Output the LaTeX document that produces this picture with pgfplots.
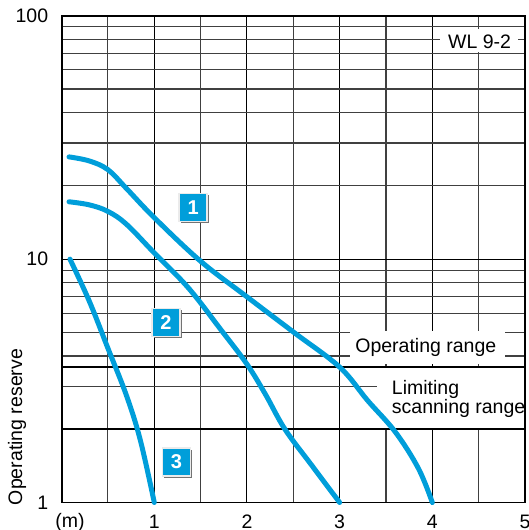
\documentclass[border=0pt]{standalone}
\usepackage{pgfplots}
\pgfplotsset{compat=1.18}
\usepackage{fontspec}
\setmainfont{Liberation Sans}
\usetikzlibrary{shadows}
\definecolor{cyanb}{RGB}{0,158,218}
\begin{document}
\fontsize{9.75}{11.5}\selectfont
\begin{tikzpicture}[
  numbox/.style={fill=cyanb, text=white, font=\bfseries\fontsize{10}{12}\selectfont,
    minimum size=14pt, inner sep=0pt, draw=black!8, line width=0.8pt,
    drop shadow={shadow xshift=0.9pt, shadow yshift=-0.9pt, fill=black!55, opacity=1}},
  curve/.style={cyanb, line width=2.5pt, line cap=round, line join=round, smooth, tension=0.6, no markers}
]
\begin{axis}[
  scale only axis, width=231.7pt, height=243.4pt,
  ymode=log, log basis y=10,
  xmin=0, xmax=5, ymin=1, ymax=100,
  xtick={1,2,3,4,5}, xticklabels={1,2,3,4,5},
  minor xtick={0.5,1.5,2.5,3.5,4.5},
  ytick={1,10,100}, yticklabels={1,10,100},
  minor ytick={2,3,4,5,6,7,8,9,20,30,40,50,60,70,80,90},
  grid=both,
  major grid style={black, line width=0.5pt},
  minor grid style={black!75, line width=0.55pt},
  major tick length=0pt, minor tick length=0pt,
  axis line style={black, line width=0.9pt},
  tick label style={font=\fontsize{9.75}{11.5}\selectfont},
  yticklabel style={xshift=-3.3pt},
  xticklabel style={yshift=-2.6pt},
  clip=false,
]
% white label boxes
\fill[white] (axis cs:4.08,71.2) rectangle (axis cs:4.92,88.3);
\fill[white] (axis cs:3.11,3.7) rectangle (axis cs:4.78,5.07);
\fill[white] (axis cs:3.40,2) rectangle (axis cs:5,3.6);
% thick reference lines
\draw[black, line width=1.1pt] (axis cs:0,3.6) -- (axis cs:5,3.6);
\draw[black, line width=1.1pt] (axis cs:0,2) -- (axis cs:5,2);
\draw[black, line width=0.9pt] (rel axis cs:1,0) -- (rel axis cs:1,1);
% curves
\addplot[curve] coordinates {(0.08,26.3) (0.3,25.3) (0.5,23.3) (0.7,19.5) (1.0,14.8) (1.5,9.8) (2.0,7.0) (2.5,5.02) (3.0,3.6) (3.3,2.63) (3.6,1.95) (3.85,1.38) (4.0,1.0)};
\addplot[curve] coordinates {(0.08,17.2) (0.3,16.7) (0.5,15.7) (0.7,13.9) (1.0,10.6) (1.37,7.6) (1.72,5.12) (2.0,3.7) (2.2,2.78) (2.41,2.0) (2.7,1.42) (3.0,1.0)};
\addplot[curve] coordinates {(0.09,10) (0.3,6.7) (0.5,4.3) (0.7,2.75) (0.85,1.8) (1.0,1.0)};
% labels
\node[anchor=center] at (axis cs:4.51,78.5) {WL 9-2};
\node[anchor=base] at (axis cs:3.93,4.14) {Operating range};
\node[anchor=base west, inner sep=0pt] at (axis cs:3.56,2.79) {Limiting};
\node[anchor=base west, inner sep=0pt] at (axis cs:3.56,2.32) {scanning range};
\node[numbox] at (axis cs:1.42,16.3) {1};
\node[numbox] at (axis cs:1.126,5.49) {2};
\node[numbox] at (axis cs:1.24,1.47) {3};
\node[anchor=base, inner sep=0pt] at ([yshift=-12.5pt]axis cs:0.09,1) {(m)};
\node[rotate=90, anchor=center, inner sep=0pt] at ([xshift=-22.3pt]rel axis cs:0,0.155) {Operating reserve};
\end{axis}
\pgfresetboundingbox
\useasboundingbox (-30.8pt,-13.75pt) rectangle (233.7pt,251.25pt);
\end{tikzpicture}
\end{document}
